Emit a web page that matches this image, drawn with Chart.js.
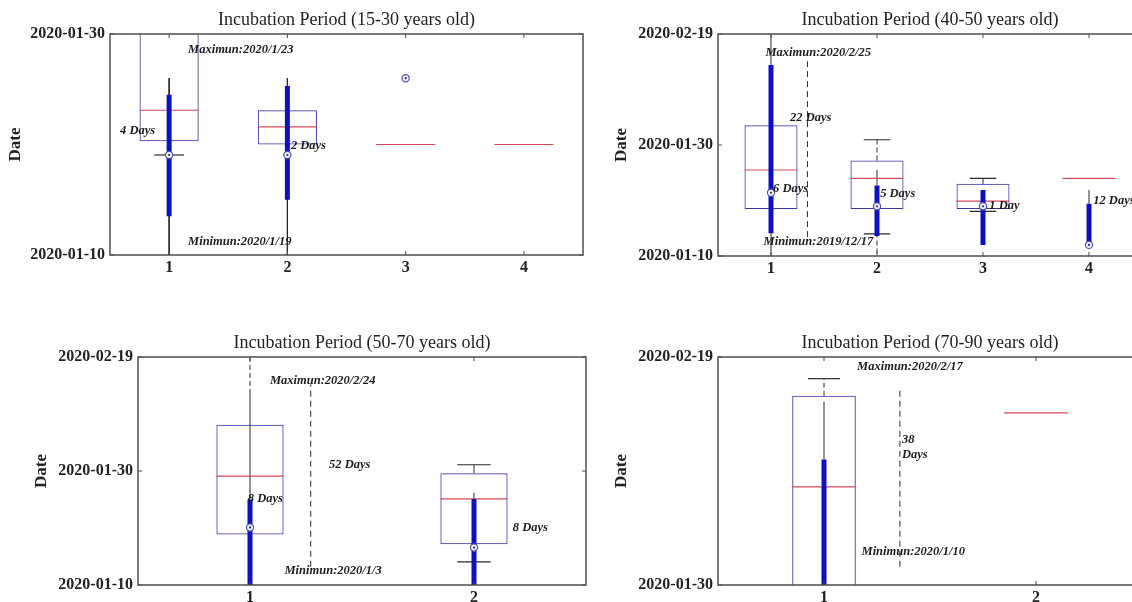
<!DOCTYPE html>
<html>
<head>
<meta charset="utf-8">
<title>Incubation Period</title>
<script src="https://cdn.jsdelivr.net/npm/chart.js@4.4.1/dist/chart.umd.min.js"></script>
<style>
  html, body { margin: 0; padding: 0; background: #fff; overflow: hidden; }
  body { width: 1132px; height: 602px; position: relative; }
  canvas { position: absolute; }
</style>
</head>
<body>
<canvas id="c1" width="600" height="290" style="left:0;top:0"></canvas>
<canvas id="c2" width="560" height="290" style="left:600px;top:0"></canvas>
<canvas id="c3" width="600" height="290" style="left:0;top:323px"></canvas>
<canvas id="c4" width="560" height="290" style="left:600px;top:323px"></canvas>
<script>
// y values are counted in days after 2020-01-10

// 15-30 years old
const ticks1530 = ["2020-01-10", "2020-01-30"];
const boxX1530 = [1, 2, 3, 4];
const q1_1530 = [10.3, 10.0, 10.0, 10.0];
const med1530 = [13.1, 11.6, 10.0, 10.0];
const q3_1530 = [23.0, 13.1, 10.0, 10.0];
const caps1530 = [[1, 9.05]];
const dashes1530 = [];
const stems1530 = [[1, 16.0, -3], [2, 16.0, -3]];
const ranges1530 = [[1, 3.5, 14.5], [2, 5.0, 15.3]];
const marks1530 = [[1, 9.05], [2, 9.05], [3, 16.0]];
const divider1530 = [];
const notes1530 = [
    [0.585, 11.2, "4 Days"],
    [1.16, 18.55, "Maximun:2020/1/23"],
    [1.16, 1.2, "Minimun:2020/1/19"],
    [2.03, 9.9, "2 Days"],
];

// 40-50 years old
const ticks4050 = ["2020-01-10", "2020-01-30", "2020-02-19"];
const boxX4050 = [1, 2, 3, 4];
const q1_4050 = [8.47, 8.47, 8.47, 14.0];
const med4050 = [15.5, 14.0, 9.9, 14.0];
const q3_4050 = [23.55, 17.2, 13.0, 14.0];
const caps4050 = [[2, 20.95], [2, 4.0], [3, 14.0], [3, 8.05]];
const dashes4050 = [[2, 17.2, 20.95], [2, -1, 8.47], [3, 13.0, 14.0]];
const stems4050 = [[1, -1, 41], [2, 12.7, 15.5], [4, 9.4, 11.9]];
const ranges4050 = [[1, 4.1, 34.4], [2, 3.6, 12.7], [3, 2.0, 11.9], [4, 2.0, 9.4]];
const marks4050 = [[1, 11.4], [2, 8.95], [3, 8.95], [4, 2.0]];
const divider4050 = [[1.344, 3.4, 35.1]];
const notes4050 = [
    [0.948, 36.6, "Maximun:2020/2/25"],
    [1.18, 24.9, "22 Days"],
    [1.02, 12.1, "6 Days"],
    [0.93, 2.6, "Minimun:2019/12/17"],
    [2.03, 11.2, "5 Days"],
    [3.06, 9.0, "1 Day"],
    [4.04, 9.9, "12 Days"],
];

// 50-70 years old
const ticks5070 = ["2020-01-10", "2020-01-30", "2020-02-19"];
const boxX5070 = [1, 2];
const q1_5070 = [8.86, 7.17];
const med5070 = [19.1, 15.1];
const q3_5070 = [28.1, 19.6];
const caps5070 = [[2, 21.1], [2, 4.05]];
const dashes5070 = [[1, 33.5, 42]];
const stems5070 = [[1, 15.0, 33.5], [2, 19.6, 21.1], [2, 15.1, 16.2]];
const ranges5070 = [[1, -3, 15.0], [2, -3, 15.1]];
const marks5070 = [[1, 10.1], [2, 6.57]];
const divider5070 = [[1.271, 3.2, 35.2]];
const notes5070 = [
    [1.089, 35.8, "Maximun:2020/2/24"],
    [1.353, 21.1, "52 Days"],
    [0.99, 15.1, "8 Days"],
    [1.154, 2.46, "Minimun:2020/1/3"],
    [2.173, 10.1, "8 Days"],
];

// 70-90 years old
const ticks7090 = ["2020-01-30", "2020-02-19"];
const boxX7090 = [1, 2];
const q1_7090 = [17.0, 35.1];
const med7090 = [28.6, 35.1];
const q3_7090 = [36.6, 35.1];
const caps7090 = [[1, 38.1]];
const dashes7090 = [[1, 36.6, 38.1]];
const stems7090 = [[1, 31.0, 36.06]];
const ranges7090 = [[1, 17.0, 31.0]];
const marks7090 = [];
const divider7090 = [[1.358, 21.6, 37.1]];
const notes7090 = [
    [1.156, 39.15, "Maximun:2020/2/17"],
    [1.368, 32.7, "38"],
    [1.368, 31.4, "Days"],
    [1.177, 22.9, "Minimun:2020/1/10"],
];

const SERIF = '"Liberation Serif", "Times New Roman", serif';
const INK = "#222";
const BOX_BLUE = "#3636aa";
const MED_RED = "#d84a58";
const RANGE_BLUE = "#0c10c4";
const WHISKER = "#2a2a2a";

const DAY0 = Date.UTC(2020, 0, 10);
const toDay = (s) => (Date.parse(s) - DAY0) / 86400000;
const toDate = (v) => new Date(DAY0 + Math.round(v) * 86400000).toISOString().slice(0, 10);

// vertical pieces [x, y0, y1] -> one polyline broken by nulls
function segs(list) {
    const pts = [];
    list.forEach(([x, y0, y1]) => pts.push({ x, y: y0 }, { x, y: y1 }, { x, y: null }));
    return pts;
}
// horizontal pieces centred on x
function hsegs(list, half) {
    const pts = [];
    list.forEach(([x, y]) => pts.push({ x: x - half, y }, { x: x + half, y }, { x, y: null }));
    return pts;
}
function lineSet(data, color, width, dash) {
    return {
        type: "line",
        data,
        borderColor: color,
        borderWidth: width,
        borderDash: dash || [],
        borderCapStyle: "butt",
        pointRadius: 0,
        fill: false,
        spanGaps: false,
        tension: 0,
    };
}

// box outline, inward ticks and the text notes
function frame(notes) {
    return {
        id: "frame",
        afterDatasetsDraw(chart) {
            const { ctx, chartArea: a, scales } = chart;
            const x = scales.x, y = scales.y;
            ctx.save();
            ctx.font = "italic bold 12.5px " + SERIF;
            ctx.fillStyle = "#1c1c1c";
            ctx.textBaseline = "middle";
            notes.forEach(([nx, ny, t]) => ctx.fillText(t, x.getPixelForValue(nx), y.getPixelForValue(ny)));

            ctx.strokeStyle = "#4d4d4d";
            ctx.lineWidth = 1.5;
            ctx.strokeRect(a.left, a.top, a.width, a.height);
            ctx.lineWidth = 1;
            ctx.beginPath();
            x.ticks.forEach((t) => {
                const px = x.getPixelForValue(t.value);
                ctx.moveTo(px, a.bottom); ctx.lineTo(px, a.bottom - 4);
                ctx.moveTo(px, a.top); ctx.lineTo(px, a.top + 4);
            });
            y.ticks.forEach((t) => {
                const py = y.getPixelForValue(t.value);
                ctx.moveTo(a.left, py); ctx.lineTo(a.left + 4, py);
                ctx.moveTo(a.right, py); ctx.lineTo(a.right - 4, py);
            });
            ctx.stroke();
            ctx.restore();
        },
    };
}

function drawPanel(id, p, lay) {
    const groups = p.boxX.length;
    const yTicks = p.ticks.map(toDay);
    const boxes = p.boxX.map((x, i) => ({ x, y: [p.q1[i], p.q3[i]] }));
    const medians = p.boxX.map((x, i) => [x, p.med[i]]);
    const marks = p.marks.map(([x, y]) => ({ x, y }));

    new Chart(document.getElementById(id), {
        type: "bar",
        data: {
            datasets: [
                { type: "line", showLine: false, data: marks, pointRadius: 1.1, pointBorderWidth: 0, pointBackgroundColor: "#2b2b88" },
                { type: "line", showLine: false, data: marks, pointRadius: 3.6, pointBorderWidth: 1.2, pointBorderColor: "#5050a8", pointBackgroundColor: "#eef0fb" },
                lineSet(segs(p.ranges), RANGE_BLUE, 5),
                lineSet(hsegs(medians, p.boxW / 2), MED_RED, 1.2),
                lineSet(hsegs(p.caps, p.boxW / 4), WHISKER, 1.2),
                lineSet(segs(p.dashes), WHISKER, 1, [5, 3]),
                lineSet(segs(p.stems), WHISKER, 1),
                lineSet(segs(p.divider), WHISKER, 1, [6, 4]),
                {
                    type: "bar",
                    data: boxes,
                    backgroundColor: "rgba(0,0,0,0)",
                    borderColor: BOX_BLUE,
                    borderWidth: 1,
                    borderSkipped: false,
                    barPercentage: p.boxW,
                    categoryPercentage: 1,
                    grouped: false,
                    clip: 0,
                },
            ],
        },
        options: {
            responsive: false,
            animation: false,
            events: [],
            layout: { padding: { left: lay.left, right: lay.right, top: 0, bottom: lay.bottom } },
            plugins: {
                legend: { display: false },
                tooltip: { enabled: false },
                title: {
                    display: true,
                    text: p.title,
                    fullSize: false,
                    color: INK,
                    font: { family: SERIF, size: 18, weight: "normal" },
                    padding: { top: 9.2, bottom: 3.2 },
                },
            },
            scales: {
                x: {
                    type: "linear",
                    min: 0.5,
                    max: groups + 0.5,
                    offset: false,
                    grid: { display: false, drawTicks: false },
                    border: { display: false },
                    afterBuildTicks: (s) => { s.ticks = p.boxX.map((v) => ({ value: v })); },
                    afterFit: (s) => { s.height = 25; },
                    ticks: { padding: 3, maxRotation: 0, color: INK, font: { family: SERIF, size: 16, weight: "bold" } },
                },
                y: {
                    type: "linear",
                    min: yTicks[0],
                    max: yTicks[yTicks.length - 1],
                    grid: { display: false, drawTicks: false },
                    border: { display: false },
                    afterBuildTicks: (s) => { s.ticks = yTicks.map((v) => ({ value: v })); },
                    afterFit: (s) => { s.width = lay.yWidth; },
                    ticks: { padding: 5, color: INK, font: { family: SERIF, size: 16, weight: "bold" }, callback: (v) => toDate(v) },
                    title: { display: true, text: "Date", color: INK, padding: 0, font: { family: SERIF, size: 17, weight: "bold" } },
                },
            },
        },
        plugins: [frame(p.notes)],
    });
}

drawPanel("c1", {
    title: "Incubation Period (15-30 years old)", boxW: 0.5, ticks: ticks1530,
    boxX: boxX1530, q1: q1_1530, med: med1530, q3: q3_1530, caps: caps1530, dashes: dashes1530,
    stems: stems1530, ranges: ranges1530, marks: marks1530, divider: divider1530, notes: notes1530,
}, { left: 5.3, right: 17, bottom: 10, yWidth: 104.7 });

drawPanel("c2", {
    title: "Incubation Period (40-50 years old)", boxW: 0.5, ticks: ticks4050,
    boxX: boxX4050, q1: q1_4050, med: med4050, q3: q3_4050, caps: caps4050, dashes: dashes4050,
    stems: stems4050, ranges: ranges4050, marks: marks4050, divider: divider4050, notes: notes4050,
}, { left: 11.8, right: 18, bottom: 9, yWidth: 106.2 });

drawPanel("c3", {
    title: "Incubation Period (50-70 years old)", boxW: 0.3, ticks: ticks5070,
    boxX: boxX5070, q1: q1_5070, med: med5070, q3: q3_5070, caps: caps5070, dashes: dashes5070,
    stems: stems5070, ranges: ranges5070, marks: marks5070, divider: divider5070, notes: notes5070,
}, { left: 31.8, right: 14, bottom: 3, yWidth: 106.2 });

drawPanel("c4", {
    title: "Incubation Period (70-90 years old)", boxW: 0.3, ticks: ticks7090,
    boxX: boxX7090, q1: q1_7090, med: med7090, q3: q3_7090, caps: caps7090, dashes: dashes7090,
    stems: stems7090, ranges: ranges7090, marks: marks7090, divider: divider7090, notes: notes7090,
}, { left: 11.8, right: 18, bottom: 3, yWidth: 106.2 });
</script>
</body>
</html>
